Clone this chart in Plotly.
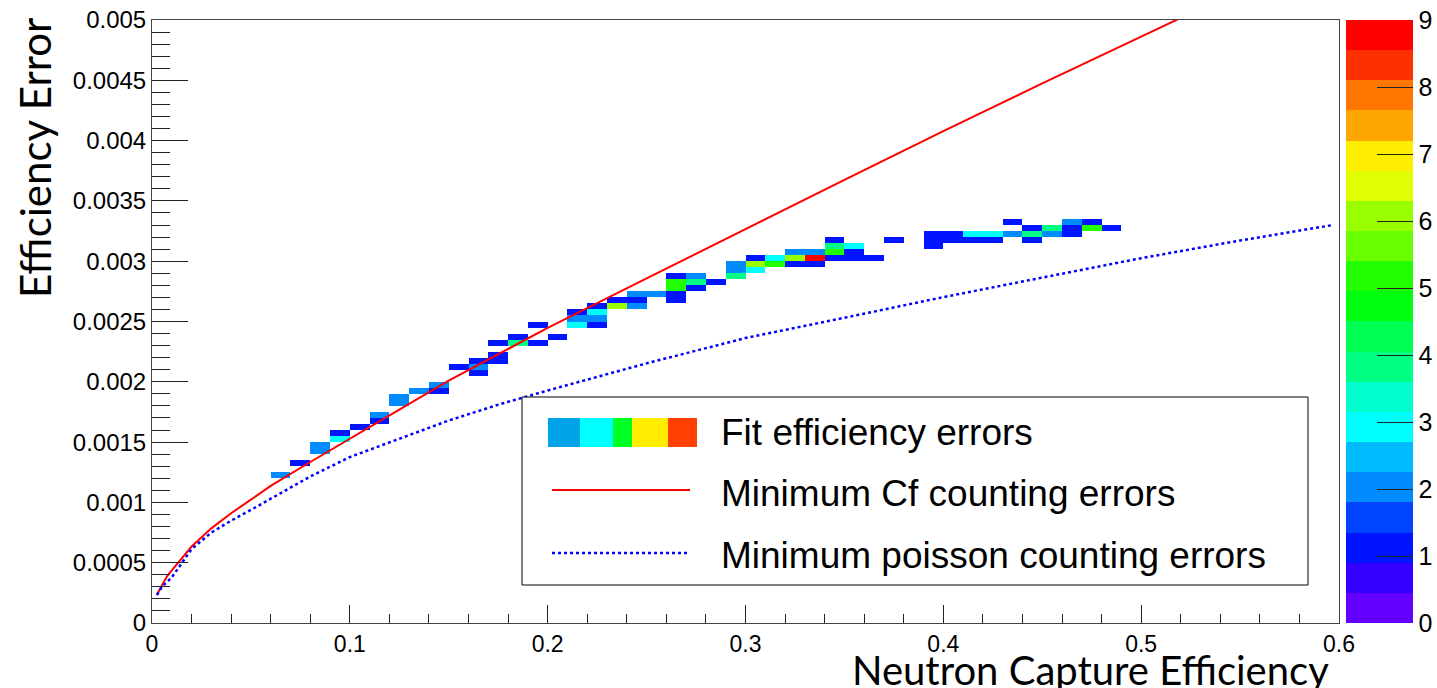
import colorsys
import numpy as np
import plotly.graph_objects as go

# ---------------- data ----------------
# 2D histogram cells: lower bin edge in efficiency, lower bin edge in error, bin content
cell_eff = [0.06, 0.07, 0.08, 0.08, 0.09, 0.09, 0.10, 0.11, 0.11, 0.12, 0.12, 0.13, 0.14, 0.14,
            0.15, 0.16, 0.16, 0.16, 0.17, 0.17, 0.17, 0.18, 0.18, 0.19, 0.19, 0.20,
            0.21, 0.21, 0.21, 0.22, 0.22, 0.22, 0.22, 0.23, 0.23, 0.24, 0.24, 0.24, 0.25,
            0.26, 0.26, 0.26, 0.26, 0.26, 0.27, 0.27, 0.27, 0.28, 0.29, 0.29, 0.29,
            0.30, 0.30, 0.30, 0.31, 0.31, 0.32, 0.32, 0.32, 0.33, 0.33, 0.33,
            0.34, 0.34, 0.34, 0.34, 0.35, 0.35, 0.35, 0.36, 0.37,
            0.39, 0.39, 0.39, 0.40, 0.40, 0.41, 0.41, 0.42, 0.42, 0.43, 0.43,
            0.44, 0.44, 0.44, 0.45, 0.45, 0.46, 0.46, 0.46, 0.47, 0.47, 0.48]
cell_err = [0.00120, 0.00130, 0.00140, 0.00145, 0.00150, 0.00155, 0.00160, 0.00165, 0.00170,
            0.00180, 0.00185, 0.00190, 0.00190, 0.00195,
            0.00210, 0.00205, 0.00210, 0.00215, 0.00215, 0.00220, 0.00230, 0.00230, 0.00235,
            0.00230, 0.00245, 0.00235,
            0.00245, 0.00250, 0.00255, 0.00245, 0.00250, 0.00255, 0.00260, 0.00260, 0.00265,
            0.00260, 0.00265, 0.00270, 0.00270,
            0.00265, 0.00270, 0.00275, 0.00280, 0.00285, 0.00275, 0.00280, 0.00285, 0.00280,
            0.00285, 0.00290, 0.00295,
            0.00290, 0.00295, 0.00300, 0.00295, 0.00300, 0.00295, 0.00300, 0.00305,
            0.00295, 0.00300, 0.00305,
            0.00300, 0.00305, 0.00310, 0.00315, 0.00300, 0.00305, 0.00310, 0.00300, 0.00315,
            0.00310, 0.00315, 0.00320, 0.00315, 0.00320, 0.00315, 0.00320, 0.00315, 0.00320,
            0.00320, 0.00330,
            0.00315, 0.00320, 0.00325, 0.00320, 0.00325, 0.00320, 0.00325, 0.00330,
            0.00325, 0.00330, 0.00325]
cell_count = [2, 1, 2, 2, 3, 1, 1, 1, 2, 2, 2, 2, 1, 2,
              1, 1, 2, 1, 1, 1, 1, 4, 1, 1, 1, 1,
              3, 2, 1, 1, 2, 3, 1, 6, 1, 2, 1, 2, 2,
              1, 1, 5, 5, 1, 1, 4, 2, 1, 4, 2, 2,
              3, 6, 1, 5, 3, 1, 6, 2, 1, 9, 2,
              1, 5, 4, 1, 1, 1, 3, 1, 1,
              1, 1, 1, 1, 1, 1, 3, 1, 3, 2, 1,
              1, 4, 1, 2, 4, 1, 1, 2, 5, 1, 1]

# Minimum Cf counting errors (red solid)
cf_eff = [0.0025, 0.005, 0.0075, 0.01, 0.015, 0.02, 0.03, 0.04, 0.05, 0.06, 0.08, 0.10,
          0.125, 0.15, 0.175, 0.20, 0.25, 0.30, 0.35, 0.40, 0.45, 0.50, 0.53]
cf_err = [0.000236, 0.000311, 0.000385, 0.000437, 0.000537, 0.000634, 0.000785, 0.00091,
          0.001023, 0.001137, 0.001335, 0.00153, 0.00177, 0.002009, 0.002228, 0.002448,
          0.002857, 0.003267, 0.003675, 0.004078, 0.004474, 0.004862, 0.005095]

# Minimum poisson counting errors (blue dotted)
poisson_eff = [0.0025, 0.005, 0.01, 0.02, 0.03, 0.04, 0.05, 0.06, 0.08, 0.10, 0.125, 0.15,
               0.175, 0.20, 0.25, 0.30, 0.35, 0.40, 0.45, 0.50, 0.55, 0.597]
poisson_err = [0.000232, 0.0003, 0.000378, 0.000613, 0.00075, 0.000849, 0.000938, 0.001032,
               0.001215, 0.001376, 0.001529, 0.001679, 0.00181, 0.001928, 0.002153, 0.002363,
               0.002531, 0.002702, 0.002864, 0.003025, 0.003172, 0.0033]

x_ticks = [0, 0.1, 0.2, 0.3, 0.4, 0.5, 0.6]
x_tick_text = ["0", "0.1", "0.2", "0.3", "0.4", "0.5", "0.6"]
y_ticks = [0, 0.0005, 0.001, 0.0015, 0.002, 0.0025, 0.003, 0.0035, 0.004, 0.0045, 0.005]
y_tick_text = ["0", "0.0005", "0.001", "0.0015", "0.002", "0.0025", "0.003", "0.0035",
               "0.004", "0.0045", "0.005"]
z_ticks = [0, 1, 2, 3, 4, 5, 6, 7, 8, 9]

legend_labels = ["Fit efficiency errors", "Minimum Cf counting errors",
                 "Minimum poisson counting errors"]

# ---------------- histogram grid ----------------
NX, NY = 60, 100
DX, DY = 0.01, 0.00005
x_edges = np.round(np.arange(NX + 1) * DX, 6)
y_edges = np.round(np.arange(NY + 1) * DY, 8)
z = [[None] * NX for _ in range(NY)]
for e, r, c in zip(cell_eff, cell_err, cell_count):
    z[int(round(r / DY))][int(round(e / DX))] = c

# ROOT "pretty palette" with 20 contour levels
pal = []
for k in range(20):
    idx = int((k + 0.99) * 50 / 20)
    hue = 280 - (idx + 1) * 5.6
    r, g, b = colorsys.hls_to_rgb(hue / 360.0, 0.5, 1.0)
    pal.append("rgb(%d,%d,%d)" % (round(r * 255), round(g * 255), round(b * 255)))
cscale = []
for k, col in enumerate(pal):
    cscale.append([k / 20, col])
    cscale.append([(k + 1) / 20, col])

# ---------------- layout geometry (pixels) ----------------
W, H = 1437, 688
L, R, T, B = 152, 1339, 20, 623


def px(xp):
    return (xp - L) / (R - L)


def py(yp):
    return (B - yp) / (B - T)


fig = go.Figure()
fig.add_trace(go.Heatmap(
    x=x_edges, y=y_edges, z=z, zmin=0, zmax=9, colorscale=cscale, zsmooth=False,
    hoverongaps=False,
    colorbar=dict(
        x=px(1346), xanchor="left", y=0, yanchor="bottom", len=1, lenmode="fraction",
        thickness=67, thicknessmode="pixels", xpad=0, ypad=0, outlinewidth=0,
        tickmode="array", tickvals=z_ticks, ticks="inside", ticklen=36, tickwidth=1,
        tickcolor="#222", tickfont=dict(family="Liberation Sans", size=25, color="black"),
    ),
))
fig.add_trace(go.Scatter(x=cf_eff, y=cf_err, mode="lines",
                         line=dict(color="#ff0000", width=2), showlegend=False))
fig.add_trace(go.Scatter(x=poisson_eff, y=poisson_err, mode="lines",
                         line=dict(color="#0000ff", width=2.5, dash="dot"), showlegend=False))

tickfont = dict(family="Liberation Sans", size=24, color="black")
fig.update_xaxes(range=[0, 0.6], tickmode="array", tickvals=x_ticks, ticktext=x_tick_text,
                 ticks="inside", ticklen=18, tickwidth=1, tickcolor="#222",
                 minor=dict(ticks="inside", ticklen=9, dtick=0.02, tick0=0, tickcolor="#222",
                            showgrid=False),
                 showline=True, linecolor="#444", linewidth=1, mirror=True,
                 showgrid=False, zeroline=False,
                 tickfont=dict(family="Liberation Sans", size=23, color="black"))
fig.update_yaxes(range=[0, 0.005], tickmode="array", tickvals=y_ticks, ticktext=y_tick_text,
                 ticks="inside", ticklen=36, tickwidth=1, tickcolor="#222",
                 minor=dict(ticks="inside", ticklen=18, dtick=0.0001, tick0=0, tickcolor="#222",
                            showgrid=False),
                 showline=True, linecolor="#444", linewidth=1, mirror=True,
                 showgrid=False, zeroline=False, tickfont=tickfont)

shapes = []
# legend box
shapes.append(dict(type="rect", xref="paper", yref="paper", x0=px(522), x1=px(1308),
                   y0=py(585), y1=py(397), line=dict(color="black", width=1),
                   fillcolor="white", layer="above"))
# fill sample for the histogram entry
fill_blocks = [(548, 580, "#00a2e8"), (580, 613, "#00ffff"), (613, 632, "#00ff22"),
               (632, 668, "#ffee00"), (668, 697, "#ff4000")]
for x0, x1, col in fill_blocks:
    shapes.append(dict(type="rect", xref="paper", yref="paper", x0=px(x0), x1=px(x1),
                       y0=py(447), y1=py(418), line=dict(width=0), fillcolor=col,
                       layer="above"))
shapes.append(dict(type="line", xref="paper", yref="paper", x0=px(552), x1=px(690),
                   y0=py(490), y1=py(490), line=dict(color="#ff0000", width=2), layer="above"))
shapes.append(dict(type="line", xref="paper", yref="paper", x0=px(552), x1=px(690),
                   y0=py(553), y1=py(553), line=dict(color="#0000ff", width=2.5, dash="dot"),
                   layer="above"))

annotations = []
for lab, yc in zip(legend_labels, [432, 493, 555]):
    annotations.append(dict(text=lab, xref="paper", yref="paper", x=px(719), y=py(yc),
                            xanchor="left", yanchor="middle", showarrow=False,
                            font=dict(family="Liberation Sans", size=37, color="black")))
annotations.append(dict(text="Neutron Capture Efficiency", xref="paper", yref="paper",
                        x=px(1331), y=py(670), xanchor="right", yanchor="middle",
                        showarrow=False, font=dict(family="Lato", size=40, color="black")))
annotations.append(dict(text="Efficiency Error", xref="paper", yref="paper",
                        x=px(35), y=py(158), xanchor="center", yanchor="middle",
                        textangle=-90, showarrow=False,
                        font=dict(family="Lato", size=42, color="black")))

fig.update_layout(width=W, height=H,
                  margin=dict(l=L, r=W - R, t=T, b=H - B, autoexpand=False),
                  paper_bgcolor="white", plot_bgcolor="white", showlegend=False,
                  shapes=shapes, annotations=annotations)

fig.write_html("out.html")
